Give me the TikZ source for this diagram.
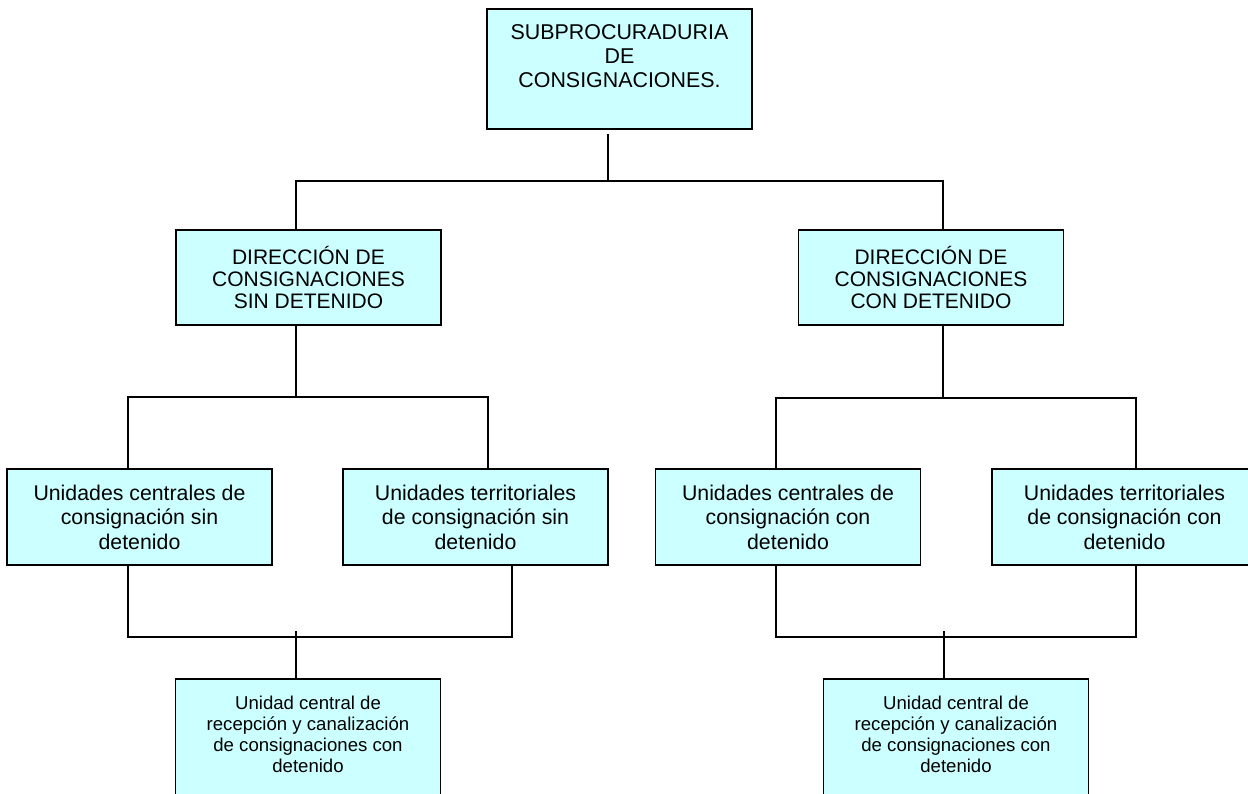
\documentclass[tikz,border=0pt]{standalone}
\usepackage{fontspec}
\setmainfont{Liberation Sans}
\definecolor{boxfill}{HTML}{CCFFFF}
\begin{document}
\begin{tikzpicture}[x=1pt,y=-1pt,
  box/.style={draw=black, line width=1.4pt, fill=boxfill, minimum width=265pt, inner sep=0pt, align=center},
  txt/.style={inner sep=0pt, align=center},
  link/.style={draw=black, line width=1.4pt},
  fonttop/.style={font=\fontsize{21.4}{24}\selectfont},
  fontdir/.style={font=\fontsize{21}{22}\selectfont},
  fontunit/.style={font=\fontsize{21.3}{24.5}\selectfont},
  fontbot/.style={font=\fontsize{18.6}{21}\selectfont}]
\useasboundingbox[fill=white] (0,0) rectangle (1248,794);

% top box
\node[box, minimum height=120pt] (top) at (619.5,69) {};
\node[txt, fonttop, anchor=north] (toptext) at (619.5,24.5) {SUBPROCURADURIA\\DE\\CONSIGNACIONES.};

% directions
\node[box, fontdir, minimum height=95pt] (d1) at (308.5,277.5) {DIRECCIÓN DE\\CONSIGNACIONES\\SIN DETENIDO};
\node[box, fontdir, minimum height=95pt] (d2) at (931,277.5) {DIRECCIÓN DE\\CONSIGNACIONES\\CON DETENIDO};

% units
\node[box, fontunit, minimum height=96pt] (ua) at (139.5,517) {Unidades centrales de\\consignación sin\\detenido};
\node[box, fontunit, minimum height=96pt] (ub) at (475.5,517) {Unidades territoriales\\de consignación sin\\detenido};
\node[box, fontunit, minimum height=96pt] (uc) at (788,517) {Unidades centrales de\\consignación con\\detenido};
\node[box, fontunit, minimum height=96pt] (ud) at (1124.5,517) {Unidades territoriales\\de consignación con\\detenido};

% bottom boxes
\node[box, minimum height=151pt] (bl) at (308,754.5) {};
\node[box, minimum height=151pt] (br) at (956,754.5) {};
\node[txt, fontbot, anchor=north] (bltext) at (308,696) {Unidad central de\\recepción y canalización\\de consignaciones con\\detenido};
\node[txt, fontbot, anchor=north] (brtext) at (956,696) {Unidad central de\\recepción y canalización\\de consignaciones con\\detenido};

% junction coordinates
\coordinate (j0) at (608,181);
\coordinate (j1) at (296,181);
\coordinate (j2) at (943,181);
\coordinate (k1) at (296,397);
\coordinate (ka) at (128,397);
\coordinate (kb) at (488,397);
\coordinate (k2) at (943,398);
\coordinate (kc) at (776,398);
\coordinate (kd) at (1136,398);
\coordinate (ma) at (128,637);
\coordinate (mb) at (512,637);
\coordinate (m1) at (296,631);
\coordinate (mc) at (776,637);
\coordinate (md) at (1136,637);
\coordinate (m2) at (944,631);

% connectors
\draw[link, shorten >=4pt] (j0) -- (j0 |- top.south);
\draw[link] (j1 |- d1.north) -- (j1) -- (j2) -- (j2 |- d2.north);

\draw[link] (k1 |- d1.south) -- (k1);
\draw[link] (ka |- ua.north) -- (ka) -- (kb) -- (kb |- ub.north);
\draw[link] (k2 |- d2.south) -- (k2);
\draw[link] (kc |- uc.north) -- (kc) -- (kd) -- (kd |- ud.north);

\draw[link] (ma |- ua.south) -- (ma) -- (mb) -- (mb |- ub.south);
\draw[link] (m1) -- (m1 |- bl.north);
\draw[link] (mc |- uc.south) -- (mc) -- (md) -- (md |- ud.south);
\draw[link] (m2) -- (m2 |- br.north);
\end{tikzpicture}
\end{document}
